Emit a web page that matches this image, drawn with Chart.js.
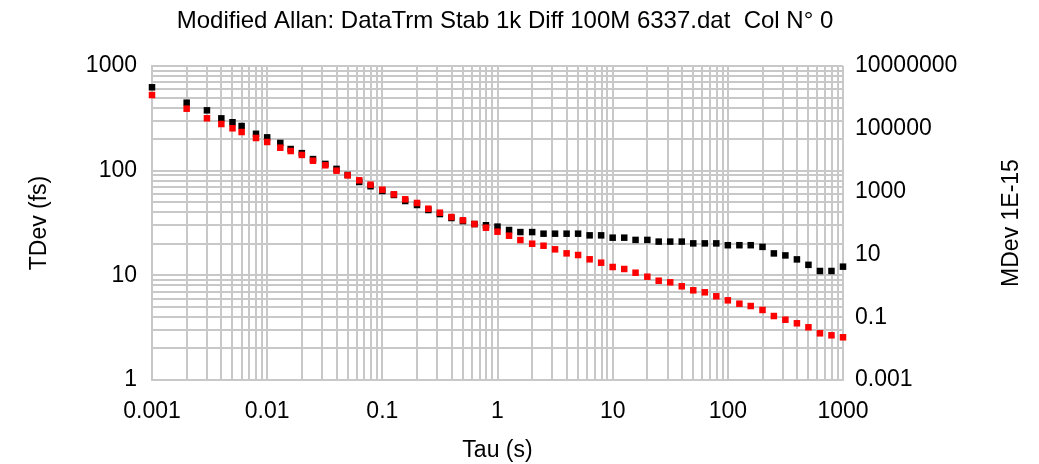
<!DOCTYPE html>
<html>
<head>
<meta charset="utf-8">
<script src="https://cdn.jsdelivr.net/npm/chart.js@4.4.0/dist/chart.umd.min.js"></script>
<style>
  body { margin: 0; background: #fff; }
  #wrap { width: 1039px; height: 464px; }
</style>
</head>
<body>
<div id="wrap"><canvas id="myChart"></canvas></div>
<script>
const chartTitle = 'Modified Allan: DataTrm Stab 1k Diff 100M 6337.dat  Col N\u00b0 0';
const xTitle = 'Tau (s)';
const leftTitle = 'TDev (fs)';
const rightTitle = 'MDev 1E-15';

const xTickLabels = ['0.001', '0.01', '0.1', '1', '10', '100', '1000'];
const leftTickLabels = ['1', '10', '100', '1000'];
const rightTickLabels = ['0.001', '0.1', '10', '1000', '100000', '10000000'];

const taus = [0.001, 0.002, 0.003, 0.004, 0.005, 0.006, 0.008,
  0.01, 0.013, 0.016, 0.02, 0.025, 0.032, 0.04, 0.05, 0.063, 0.079,
  0.1, 0.126, 0.158, 0.2, 0.251, 0.316, 0.398, 0.501, 0.631, 0.794,
  1, 1.26, 1.58, 2, 2.51, 3.16, 3.98, 5.01, 6.31, 7.94,
  10, 12.6, 15.8, 20, 25.1, 31.6, 39.8, 50.1, 63.1, 79.4,
  100, 126, 158, 200, 251, 316, 398, 501, 631, 794,
  1000];

// TDev, fs (left axis)
const tdev = [626, 446, 377, 316, 290, 267, 225,
  208, 184, 161, 147, 129, 116, 104, 91, 78, 71,
  64, 58.6, 51.3, 47, 42.1, 38.5, 35.3, 33.0, 30.9, 30.1,
  29.2, 27.1, 25.9, 25.9, 25.0, 25.0, 25.0, 25.0, 24.1, 24.1,
  22.9, 22.9, 21.8, 21.8, 21.0, 21.0, 21.0, 20.2, 20.2, 20.2,
  19.4, 19.4, 19.4, 18.7, 16.2, 15.5, 14.2, 12.6, 11.0, 11.0,
  12.1];

// MDev, 1E-15 (right axis)
const mdev = [1.19e6, 4.37e5, 2.16e5, 1.42e5, 1.04e5, 7.9e4, 5.1e4,
  3.8e4, 2.5e4, 1.96e4, 1.47e4, 9640, 6880, 4630, 3300, 2290, 1660,
  1150, 820, 569, 434, 285, 213, 155, 122, 92.9, 70.8,
  52.9, 39.4, 28.7, 21.9, 18.9, 14.5, 10.8, 9.57, 6.98, 5.44,
  3.97, 3.43, 2.61, 1.95, 1.45, 1.29, 0.964, 0.719, 0.621, 0.463,
  0.345, 0.269, 0.227, 0.170, 0.109, 0.0832, 0.064, 0.0477, 0.0307, 0.0265,
  0.0229];

const gridColor = '#c8c8c8';
const fontFamily = '"Liberation Sans", Arial, sans-serif';

// major ticks from the label list, minor 2..9 between them
const logTicks = (labels, withMinor) => {
  const out = [];
  labels.forEach((lab, i) => {
    const v = Number(lab);
    out.push({ value: v, txt: lab });
    if (withMinor && i < labels.length - 1) {
      for (let m = 2; m <= 9; m++) out.push({ value: m * v, txt: '' });
    }
  });
  return out;
};

const textPlugin = {
  id: 'texts',
  afterDraw(chart) {
    const ctx = chart.ctx;
    const a = chart.chartArea;
    ctx.save();
    ctx.fillStyle = '#000';
    ctx.textAlign = 'center';
    ctx.textBaseline = 'middle';
    ctx.font = '24px ' + fontFamily;
    ctx.fillText(chartTitle, 505, 21);
    ctx.font = '23px ' + fontFamily;
    ctx.translate(1012, (a.top + a.bottom) / 2);
    ctx.rotate(-Math.PI / 2);
    ctx.fillText(rightTitle, 0, 0);
    ctx.restore();
  }
};

Chart.defaults.color = '#000';
Chart.defaults.font.family = fontFamily;
Chart.defaults.font.size = 23;

const ctx = document.getElementById('myChart');

new Chart(ctx, {
  type: 'scatter',
  data: {
    datasets: [{
      label: 'MDev',
      data: taus.map((t, i) => ({ x: t, y: mdev[i] })),
      yAxisID: 'y2',
      backgroundColor: '#ff0000',
      pointStyle: 'rect',
      pointRadius: 4.6,
      borderWidth: 0,
      clip: false
    }, {
      label: 'TDev',
      data: taus.map((t, i) => ({ x: t, y: tdev[i] })),
      yAxisID: 'y',
      backgroundColor: '#000000',
      pointStyle: 'rect',
      pointRadius: 4.6,
      borderWidth: 0,
      clip: false
    }]
  },
  options: {
    responsive: true,
    maintainAspectRatio: false,
    animation: false,
    layout: { padding: { top: 66, left: 0, right: 0, bottom: 0 } },
    plugins: {
      legend: { display: false },
      tooltip: { enabled: false },
      title: { display: false }
    },
    scales: {
      x: {
        type: 'logarithmic',
        position: 'bottom',
        min: 0.001,
        max: 1000,
        afterBuildTicks: s => { s.ticks = logTicks(xTickLabels, true); },
        afterFit: s => { s.height = 84; },
        ticks: {
          autoSkip: false,
          maxRotation: 0,
          minRotation: 0,
          padding: 18,
          callback: (v, i, t) => t[i].txt
        },
        grid: { color: gridColor, lineWidth: 2, drawTicks: false },
        border: { color: gridColor, width: 2 },
        title: { display: true, text: xTitle, padding: { top: 0, bottom: 0 } }
      },
      y: {
        type: 'logarithmic',
        position: 'left',
        min: 1,
        max: 1000,
        afterBuildTicks: s => { s.ticks = logTicks(leftTickLabels, true); },
        afterFit: s => { s.width = 152; },
        ticks: {
          autoSkip: false,
          padding: 15,
          callback: (v, i, t) => t[i].txt
        },
        grid: { color: gridColor, lineWidth: 2, drawTicks: false },
        border: { color: gridColor, width: 2 },
        title: { display: true, text: leftTitle, padding: { top: 26, bottom: 0 } }
      },
      y2: {
        type: 'logarithmic',
        position: 'right',
        min: 0.001,
        max: 1e7,
        afterBuildTicks: s => { s.ticks = logTicks(rightTickLabels, false); },
        afterFit: s => { s.width = 196; },
        ticks: {
          autoSkip: false,
          padding: 12,
          callback: (v, i, t) => t[i].txt
        },
        grid: { display: false, drawTicks: false },
        border: { display: false }
      }
    }
  },
  plugins: [textPlugin]
});
</script>
</body>
</html>
